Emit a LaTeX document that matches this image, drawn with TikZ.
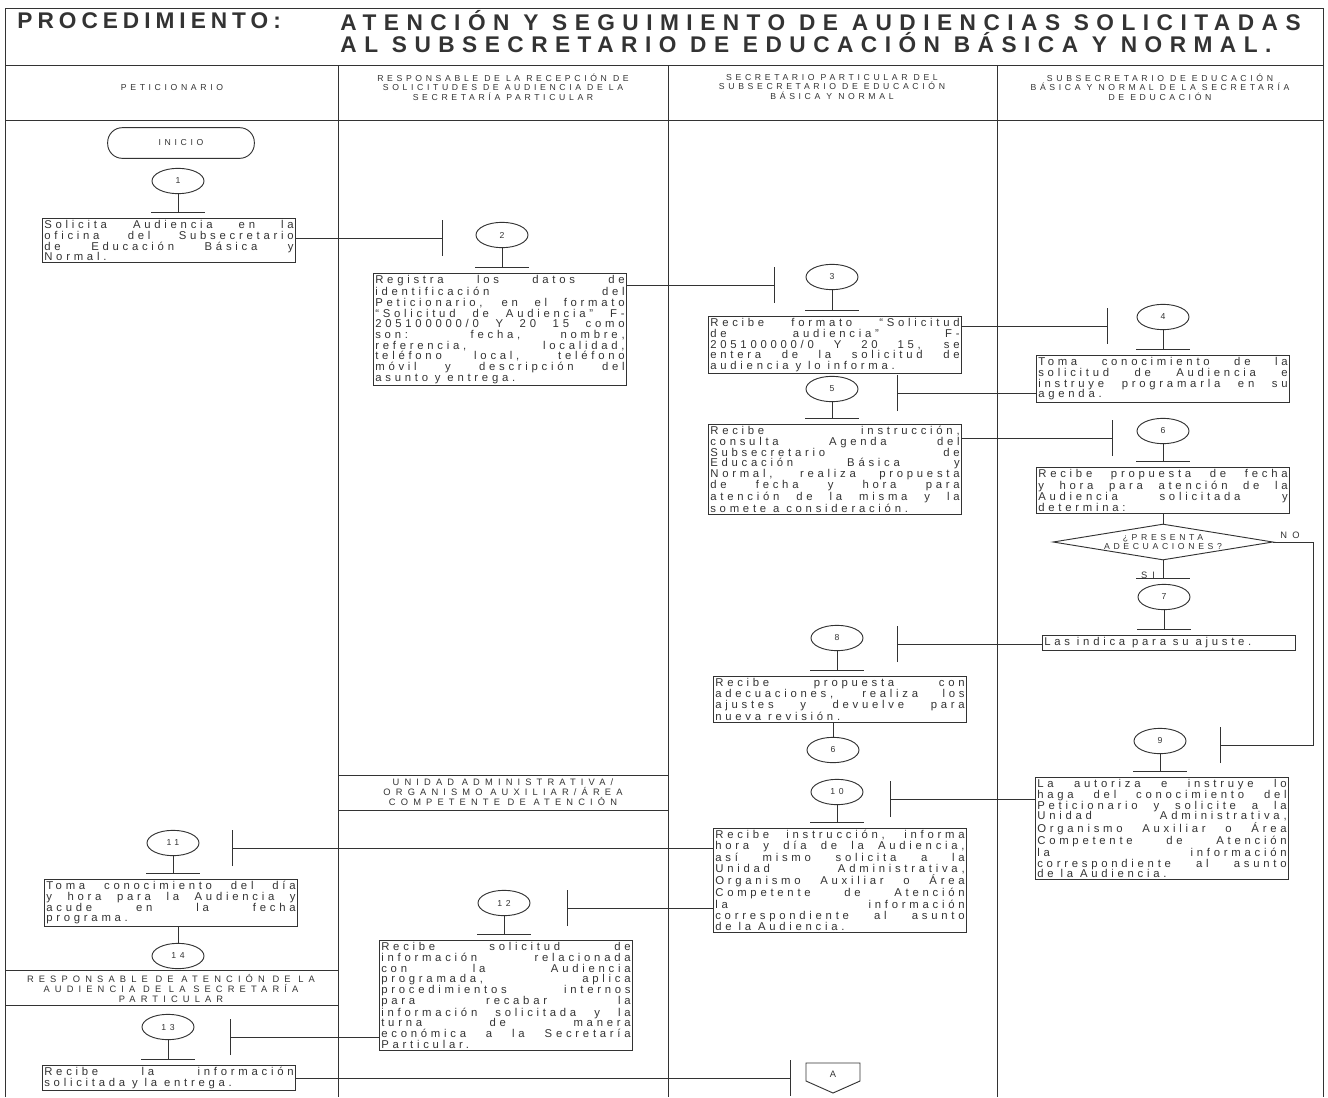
\documentclass[tikz,border=0pt]{standalone}
\usepackage{fontspec}
\setmainfont{Liberation Sans}
\newfontfamily\boxfont[LetterSpace=33]{Liberation Sans}
\newfontfamily\headfont[LetterSpace=42]{Liberation Sans}
\newfontfamily\bandfont[LetterSpace=55]{Liberation Sans}
\newfontfamily\titlefont[LetterSpace=33]{Liberation Sans}
\newfontfamily\procfont[LetterSpace=22]{Liberation Sans}
\newcommand\boxtxt{\boxfont\fontsize{8.5}{8}\selectfont\hyphenpenalty=10000\exhyphenpenalty=10000}
\newcommand\headtxt{\headfont\fontsize{6.5}{7.1}\selectfont}
\newcommand\bandtxt{\bandfont\fontsize{7}{7.5}\selectfont}
\newcommand\numtxt{\headfont\fontsize{6.5}{7}\selectfont}
\newcommand\titletxt{\titlefont\bfseries\fontsize{17}{18}\selectfont}
\newcommand\proctxt{\procfont\bfseries\fontsize{17}{18}\selectfont}
\usetikzlibrary{arrows.meta,shapes.geometric}

\begin{document}
\begin{tikzpicture}[
    x=0.75pt, y=-0.75pt,
    line width=0.7pt, color=black!80,
    box/.style={draw, align=justify, text width=187pt, inner sep=1.5pt, anchor=north, font=\boxtxt},
    num/.style={draw, ellipse, minimum width=39pt, minimum height=19pt, inner sep=0pt, font=\numtxt},
    dec/.style={draw, diamond, minimum width=165pt, minimum height=27pt, inner sep=0pt},
    head/.style={align=center, font=\headtxt},
    band/.style={align=center, font=\bandtxt},
    flowh/.style={-{Bar[width=27pt]}},
    flowv/.style={-{Bar[width=40pt]}, shorten >=4pt}
]
\useasboundingbox (0,0) rectangle (1328,1097);

% frame and swimlanes
\draw (5,1097) -- (5,8) -- (1323,8) -- (1323,1097);
\draw (5,65) -- (1323,65);
\draw (5,120) -- (1323,120);
\foreach \x in {338,668,997}
    \draw (\x,65) -- (\x,1097);

\node[anchor=west, inner sep=0pt, font=\proctxt] (proc) at (17,21) {PROCEDIMIENTO:};
\node[anchor=west, inner sep=0pt, font=\titletxt] (tit1) at (340,21) {ATENCIÓN Y SEGUIMIENTO DE AUDIENCIAS SOLICITADAS};
\node[anchor=west, inner sep=0pt, font=\titletxt] (tit2) at (340,43) {AL SUBSECRETARIO DE EDUCACIÓN BÁSICA Y NORMAL.};

\node[head] (h1) at (172,88) {PETICIONARIO};
\node[head] (h2) at (503,87) {RESPONSABLE DE LA RECEPCIÓN DE\\SOLICITUDES DE AUDIENCIA DE LA\\SECRETARÍA PARTICULAR};
\node[head] (h3) at (832,87) {SECRETARIO PARTICULAR DEL\\SUBSECRETARIO DE EDUCACIÓN\\BÁSICA Y NORMAL};
\node[head] (h4) at (1160,87) {SUBSECRETARIO DE EDUCACIÓN\\BÁSICA Y NORMAL DE LA SECRETARÍA\\DE EDUCACIÓN};

\draw (338,775) -- (668,775) (338,810) -- (668,810);
\node[band] (ua) at (503,792) {UNIDAD ADMINISTRATIVA/\\ORGANISMO AUXILIAR/ÁREA\\COMPETENTE DE ATENCIÓN};
\draw (5,970) -- (338,970) (5,1005) -- (338,1005);
\node[band] (ra) at (171,988) {RESPONSABLE DE ATENCIÓN DE LA\\AUDIENCIA DE LA SECRETARÍA\\PARTICULAR};

% steps
\node[draw, rounded corners=11pt, minimum width=110pt, minimum height=23pt, font=\headtxt] (ini) at (181,143) {INICIO};

\node[num] (c1) at (178,181) {1};
\node[box] (b1) at (169,218) {Solicita Audiencia en la\linebreak oficina del Subsecretario\linebreak de Educación Básica y\linebreak Normal.};

\node[num] (c2) at (502,235) {2};
\node[box] (b2) at (500,273) {Registra los datos de\linebreak identificación del\linebreak Peticionario, en el formato\linebreak “Solicitud de Audiencia” F-\linebreak 205100000/0 Y 20 15 como\linebreak son: fecha, nombre,\linebreak referencia, localidad,\linebreak teléfono local, teléfono\linebreak móvil y descripción del\linebreak asunto y entrega.};

\node[num] (c3) at (832,277) {3};
\node[box] (b3) at (835,316) {Recibe formato “Solicitud\linebreak de audiencia” F-\linebreak 205100000/0 Y 20 15, se\linebreak entera de la solicitud de\linebreak audiencia y lo informa.};

\node[num] (c4) at (1163,317) {4};
\node[box] (b4) at (1163,355) {Toma conocimiento de la\linebreak solicitud de Audiencia e\linebreak instruye programarla en su\linebreak agenda.};

\node[num] (c5) at (832,389) {5};
\node[box] (b5) at (835,424) {Recibe instrucción,\linebreak consulta Agenda del\linebreak Subsecretario de\linebreak Educación Básica y\linebreak Normal, realiza propuesta\linebreak de fecha y hora para\linebreak atención de la misma y la\linebreak somete a consideración.};

\node[num] (c6) at (1163,431) {6};
\node[box] (b6) at (1163,467) {Recibe propuesta de fecha\linebreak y hora para atención de la\linebreak Audiencia solicitada y\linebreak determina:};

\node[dec] (dia) at (1163,542) {};
\node[head] (diatxt) at (dia) {¿PRESENTA\\ADECUACIONES?};
\node[font=\bandtxt] (no) at (1290,535) {NO};
\node[font=\bandtxt] (si) at (1148,575) {SI};

\node[num] (c7) at (1164,597) {7};
\node[box] (b7) at (1169,635) {Las indica para su ajuste.};

\node[num] (c8) at (837,638) {8};
\node[box] (b8) at (840,676) {Recibe propuesta con\linebreak adecuaciones, realiza los\linebreak ajustes y devuelve para\linebreak nueva revisión.};
\node[num] (k6) at (833,750) {6};

\node[num] (c9) at (1160,741) {9};
\node[box] (b9) at (1162,777) {La autoriza e instruye lo\linebreak haga del conocimiento del\linebreak Peticionario y solicite a la\linebreak Unidad Administrativa,\linebreak Organismo Auxiliar o Área\linebreak Competente de Atención\linebreak la información\linebreak correspondiente al asunto\linebreak de la Audiencia.};

\node[num] (c10) at (837,792) {10};
\node[box] (b10) at (840,828) {Recibe instrucción, informa\linebreak hora y día de la Audiencia,\linebreak así mismo solicita a la\linebreak Unidad Administrativa,\linebreak Organismo Auxiliar o Área\linebreak Competente de Atención\linebreak la información\linebreak correspondiente al asunto\linebreak de la Audiencia.};

\node[num] (c11) at (173,843) {11};
\node[box] (b11) at (171,879) {Toma conocimiento del día\linebreak y hora para la Audiencia y\linebreak acude en la fecha\linebreak programa.};
\node[num] (k14) at (178,956) {14};

\node[num] (c12) at (504,903) {12};
\node[box] (b12) at (506,940) {Recibe solicitud de\linebreak información relacionada\linebreak con la Audiencia\linebreak programada, aplica\linebreak procedimientos internos\linebreak para recabar la\linebreak información solicitada y la\linebreak turna de manera\linebreak económica a la Secretaría\linebreak Particular.};

\node[num] (c13) at (168,1027) {13};
\node[box] (b13) at (169,1065) {Recibe la información\linebreak solicitada y la entrega.};

\node[font=\bandtxt] (conA) at (833,1074) {A};
\draw (806,1063) -- (860,1063) -- (860,1081) -- (833,1093) -- (806,1081) -- cycle;

% connectors
\coordinate (t2) at (443,238);
\coordinate (t3) at (775,285);
\coordinate (t4) at (1108,326);
\coordinate (t5) at (897,393);
\coordinate (t6) at (1113,438);
\coordinate (t8) at (897,644);
\coordinate (t9) at (1220,745);
\coordinate (nocorner) at (1313,745);
\coordinate (t10) at (890,799);
\coordinate (t11) at (232,848);
\coordinate (t12) at (567,908);
\coordinate (t13) at (230,1037);
\coordinate (tA) at (791,1078);

\draw[flowh] (b1.east |- t2) -- (t2);
\draw[flowh] (b2.east |- t3) -- (t3);
\draw[flowh] (b3.east |- t4) -- (t4);
\draw[flowh] (b4.west |- t5) -- (t5);
\draw[flowh] (b5.east |- t6) -- (t6);
\draw[flowh] (b7.west |- t8) -- (t8);
\draw[flowh] (dia.east) -| (nocorner) -- (t9);
\draw[flowh] (b9.west |- t10) -- (t10);
\draw[flowh] (b10.west |- t11) -- (t11);
\draw[flowh] (b10.west |- t12) -- (t12);
\draw[flowh] (b12.west |- t13) -- (t13);
\draw[flowh] (b13.east |- tA) -- (tA);

\foreach \c/\b in {c1/b1,c2/b2,c3/b3,c4/b4,c5/b5,c6/b6,c7/b7,c8/b8,c9/b9,c10/b10,c11/b11,c12/b12,c13/b13}
    \draw[flowv] (\c) -- (\c |- \b.north);
\draw[flowv] (dia) -- (dia |- c7.north);
\draw (b6) -- (dia);
\draw (k6 |- b8.south) -- (k6);
\draw (k14 |- b11.south) -- (k14);
\end{tikzpicture}
\end{document}
